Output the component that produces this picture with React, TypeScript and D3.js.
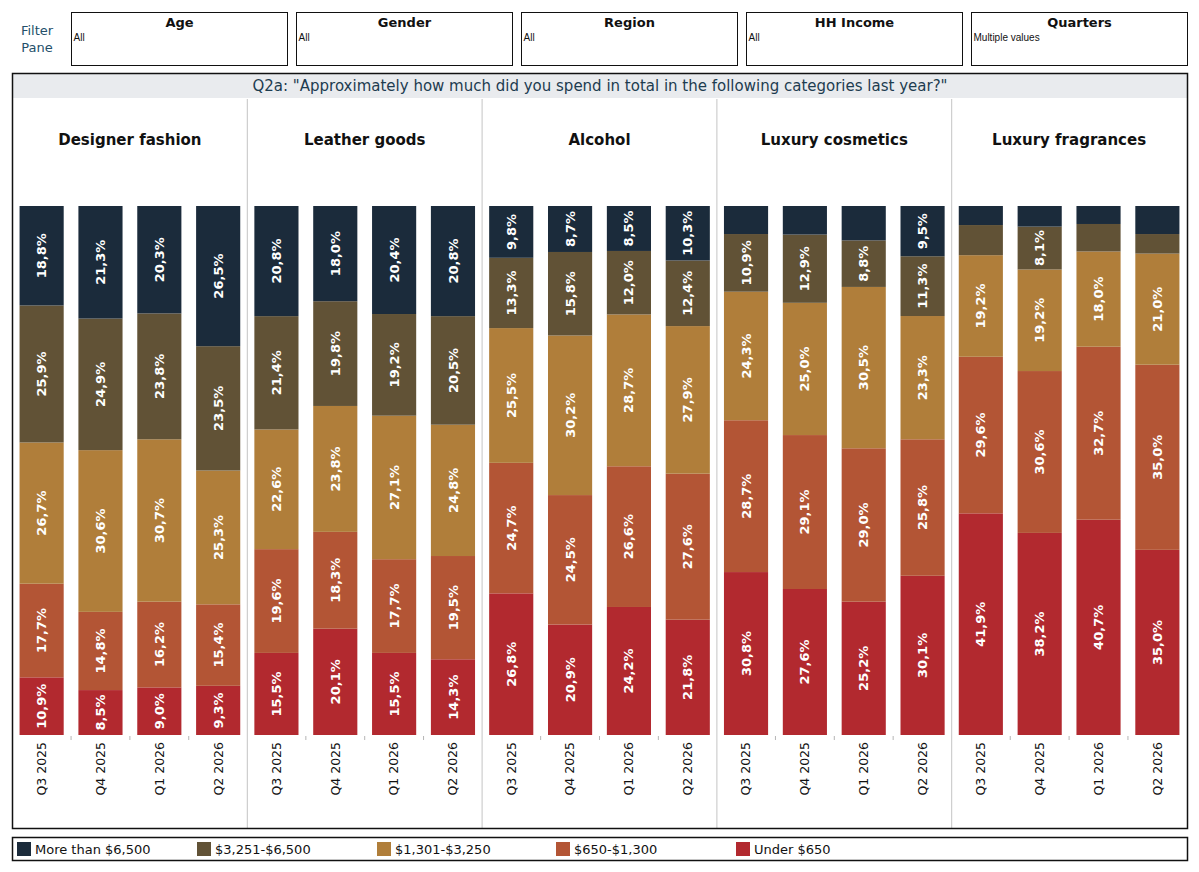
import React from 'react';
import * as d3 from 'd3';

const categories = ['Designer fashion', 'Leather goods', 'Alcohol', 'Luxury cosmetics', 'Luxury fragrances'];
const quarters = ['Q3 2025', 'Q4 2025', 'Q1 2026', 'Q2 2026'];
// stack order, bottom to top
const bands = ['Under $650', '$650-$1,300', '$1,301-$3,250', '$3,251-$6,500', 'More than $6,500'];
const bandColors = ['#b2292f', '#b35535', '#b07e3a', '#615236', '#1b2b3b'];

const filters = ['Age', 'Gender', 'Region', 'HH Income', 'Quarters'];
const filterValues = ['All', 'All', 'All', 'All', 'Multiple values'];

// one row per category, one value per quarter
const under650 = [
  [10.9, 8.5, 9.0, 9.3],
  [15.5, 20.1, 15.5, 14.3],
  [26.8, 20.9, 24.2, 21.8],
  [30.8, 27.6, 25.2, 30.1],
  [41.9, 38.2, 40.7, 35.0],
];
const from650 = [
  [17.7, 14.8, 16.2, 15.4],
  [19.6, 18.3, 17.7, 19.5],
  [24.7, 24.5, 26.6, 27.6],
  [28.7, 29.1, 29.0, 25.8],
  [29.6, 30.6, 32.7, 35.0],
];
const from1301 = [
  [26.7, 30.6, 30.7, 25.3],
  [22.6, 23.8, 27.1, 24.8],
  [25.5, 30.2, 28.7, 27.9],
  [24.3, 25.0, 30.5, 23.3],
  [19.2, 19.2, 18.0, 21.0],
];
const from3251 = [
  [25.9, 24.9, 23.8, 23.5],
  [21.4, 19.8, 19.2, 20.5],
  [13.3, 15.8, 12.0, 12.4],
  [10.9, 12.9, 8.8, 11.3],
  [5.7, 8.1, 5.2, 3.7],
];
const over6500 = [
  [18.8, 21.3, 20.3, 26.5],
  [20.8, 18.0, 20.4, 20.8],
  [9.8, 8.7, 8.5, 10.3],
  [5.3, 5.4, 6.5, 9.5],
  [3.6, 3.9, 3.4, 5.3],
];
const series = [under650, from650, from1301, from3251, over6500];

const W = 1199;
const H = 872;
const font = 'DejaVu Sans, sans-serif';
const fmt = (v: number) => v.toFixed(1).replace('.', ',') + '%';

export default function App() {
  const panelX = d3.scaleBand<string>().domain(categories).range([12.5, 1186.5]);
  const barX = d3.scaleBand<string>().domain(quarters).range([0, panelX.bandwidth()]).paddingInner(0.25).paddingOuter(0.12);
  const y = d3.scaleLinear().domain([0, 1]).range([735, 206]);
  const filterX = d3.scaleBand<string>().domain(filters).range([71, 1187]).paddingInner(0.04);
  const legendX = d3.scalePoint<string>().domain([...bands].reverse()).range([17, 736]);

  return (
    <div style={{ position: 'absolute', left: 0, top: 0 }}>
      <svg width={W} height={H} style={{ display: 'block', fontFamily: font }}>
        <rect width={W} height={H} fill="#fff" />
        {/* filter pane */}
        <text x={37} y={35} textAnchor="middle" fontSize={13} fill="#24506a">Filter</text>
        <text x={37} y={52} textAnchor="middle" fontSize={13} fill="#24506a">Pane</text>
        {filters.map((f, i) => {
          const x = Math.round(filterX(f)!) + 0.5;
          return (
            <g key={f}>
              <rect x={x} y={12.5} width={216} height={53} fill="#fff" stroke="#111" />
              <text x={x + 108} y={27} textAnchor="middle" fontSize={13} fontWeight="bold" fill="#111">{f}</text>
              <text x={x + 2} y={41} fontSize={10} fontFamily="Liberation Sans, Arial, sans-serif" fill="#111">{filterValues[i]}</text>
            </g>
          );
        })}
        {/* frame and title */}
        <rect x={13} y={74} width={1175} height={24} fill="#e9ebee" />
        <text x={600} y={91} textAnchor="middle" fontSize={15} fill="#1d3c50">
          Q2a: "Approximately how much did you spend in total in the following categories last year?"
        </text>
        {categories.slice(1).map((c) => (
          <line key={c} x1={panelX(c)!} x2={panelX(c)!} y1={99} y2={828} stroke="#c4c4c4" strokeWidth={1} />
        ))}
        <rect x={12.5} y={73.5} width={1175} height={755} fill="none" stroke="#111" strokeWidth={1.5} />
        {categories.map((c, ci) => {
          const px = panelX(c)!;
          return (
            <g key={c}>
              <text x={px + panelX.bandwidth() / 2} y={145} textAnchor="middle" fontSize={15} fontWeight="bold" fill="#111">{c}</text>
              {quarters.map((q, qi) => {
                const vals = series.map((s) => s[ci][qi]);
                const total = d3.sum(vals);
                let cum = 0;
                const bx = px + barX(q)!;
                const bw = barX.bandwidth();
                return (
                  <g key={q}>
                    {vals.map((v, si) => {
                      const y0 = y(cum / total);
                      cum += v;
                      const y1 = y(cum / total);
                      const cy = (y0 + y1) / 2;
                      return (
                        <g key={si}>
                          <rect x={bx} y={y1} width={bw} height={y0 - y1} fill={bandColors[si]} />
                          {v >= 7 && (
                            <text
                              transform={`translate(${bx + bw / 2},${cy}) rotate(-90)`}
                              textAnchor="middle"
                              dy="0.35em"
                              fontSize={13}
                              fontWeight="bold"
                              fill="#fff"
                            >
                              {fmt(v)}
                            </text>
                          )}
                        </g>
                      );
                    })}
                    <text
                      transform={`translate(${bx + bw / 2},742) rotate(-90)`}
                      textAnchor="end"
                      dy="0.35em"
                      fontSize={12.5}
                      fill="#111"
                    >
                      {q}
                    </text>
                    {qi > 0 && (
                      <line
                        x1={bx - (barX.step() - bw) / 2}
                        x2={bx - (barX.step() - bw) / 2}
                        y1={736}
                        y2={740}
                        stroke="#b5b5b5"
                      />
                    )}
                  </g>
                );
              })}
            </g>
          );
        })}
        {/* legend */}
        <rect x={12.5} y={837.5} width={1175} height={23} fill="#fff" stroke="#111" strokeWidth={1.5} />
        {[...bands].reverse().map((b, i) => {
          const lx = Math.round(legendX(b)!);
          return (
            <g key={b}>
              <rect x={lx} y={842} width={14} height={14} fill={bandColors[bands.length - 1 - i]} />
              <text x={lx + 18} y={854} fontSize={13} fill="#111">{b}</text>
            </g>
          );
        })}
      </svg>
    </div>
  );
}
